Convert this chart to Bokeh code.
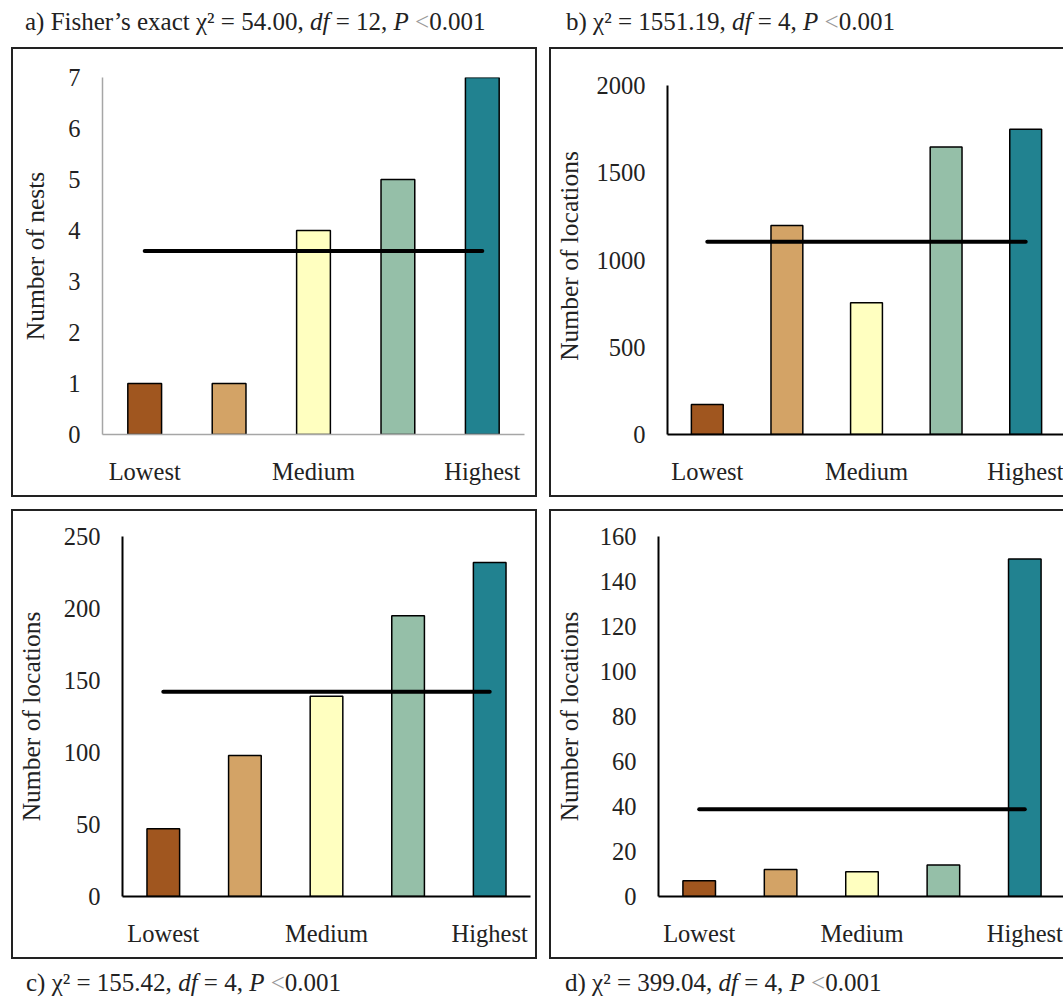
from bokeh.plotting import figure
from bokeh.layouts import row, column
from bokeh.models import Div, Spacer, Range1d, FixedTicker, ColumnDataSource
from bokeh.embed import file_html
from bokeh.resources import INLINE

# ---------------- data ----------------
levels = ["Lowest", "Low", "Medium", "High", "Highest"]
tick_labels = {1: "Lowest", 3: "Medium", 5: "Highest"}
bar_colors = ["#A0561F", "#D3A366", "#FFFFC0", "#95BFA8", "#218290"]

nests_a = [1, 1, 4, 5, 7]
locations_b = [172, 1198, 755, 1648, 1750]
locations_c = [47, 98, 139, 195, 232]
locations_d = [7, 12, 11, 14, 150]
expected = [3.6, 1104, 142.2, 38.8]

y_max = [7, 2000, 250, 160]
y_step = [1, 500, 50, 20]
y_titles = ["Number of nests", "Number of locations", "Number of locations", "Number of locations"]

LT = "<span style='color:#9a9a9a'>&lt;</span>"
title_a = "a) Fisher\u2019s exact \u03c7\u00b2 = 54.00, <i>df</i> = 12, <i>P</i> " + LT + "0.001"
title_b = "b) \u03c7\u00b2 = 1551.19, <i>df</i> = 4, <i>P</i> " + LT + "0.001"
title_c = "c) \u03c7\u00b2 = 155.42, <i>df</i> = 4, <i>P</i> " + LT + "0.001"
title_d = "d) \u03c7\u00b2 = 399.04, <i>df</i> = 4, <i>P</i> " + LT + "0.001"

FONT = "Liberation Serif"
TXT = "#222222"
BOX = "2px solid #222"
xs = [i + 1 for i in range(len(levels))]


def panel(vals, exp, ymax, yend, step, ylabel, w, h, bl, br, bt, bb, axis_color, axis_w,
          open_right, label_standoff=15):
    p = figure(width=w, height=h, x_range=Range1d(0.5, len(levels) + 0.5),
               y_range=Range1d(0, yend), output_backend="svg", toolbar_location=None,
               min_border_left=bl, min_border_right=br, min_border_top=bt, min_border_bottom=bb)
    p.outline_line_color = None
    p.grid.visible = False
    p.background_fill_color = "white"
    p.border_fill_color = "white"
    src = ColumnDataSource(dict(x=xs, top=vals, color=bar_colors, level=levels))
    p.vbar(x="x", top="top", bottom=0, width=0.4, fill_color="color",
           line_color="black", line_width=1.5, source=src)
    p.segment(x0=xs[0], x1=xs[-1], y0=exp, y1=exp, line_width=4, line_color="black",
              line_cap="round")
    for ax in (p.xaxis[0], p.yaxis[0]):
        ax.axis_line_color = axis_color
        ax.axis_line_width = axis_w
        ax.major_tick_line_color = None
        ax.minor_tick_line_color = None
        ax.major_tick_out = 0
        ax.major_tick_in = 0
        ax.minor_tick_out = 0
        ax.minor_tick_in = 0
        ax.major_label_text_font = FONT
        ax.major_label_text_font_size = "24.5px"
        ax.major_label_text_color = TXT
    p.xaxis.major_label_standoff = 23
    p.yaxis.major_label_standoff = 22
    p.xaxis.ticker = FixedTicker(ticks=list(tick_labels.keys()))
    p.xaxis.major_label_overrides = tick_labels
    p.yaxis.ticker = FixedTicker(ticks=list(range(0, ymax + 1, step)))
    p.yaxis.bounds = (0, ymax)
    p.yaxis.axis_label = ylabel
    p.yaxis.axis_label_text_font = FONT
    p.yaxis.axis_label_text_font_size = "25.5px"
    p.yaxis.axis_label_text_font_style = "normal"
    p.yaxis.axis_label_text_color = TXT
    p.yaxis.axis_label_standoff = label_standoff
    st = {"box-sizing": "border-box", "border-left": BOX, "border-top": BOX, "border-bottom": BOX}
    if not open_right:
        st["border-right"] = BOX
    p.styles = st
    return p


W_L, W_R, H = 526, 514, 450
# row 1 shares frame top/bottom; panel b's range reaches a little above 2000
pa = panel(nests_a, expected[0], y_max[0], 7, y_step[0], y_titles[0], W_L, H, 89, 15, 28, 65, "#a6a6a6", 1.5, False)
pb = panel(locations_b, expected[1], y_max[1], 2046, y_step[1], y_titles[1], W_R, H, 115, 0, 28, 65, "black", 2, True,
           label_standoff=10)
pc = panel(locations_c, expected[2], y_max[2], 250, y_step[2], y_titles[2], W_L, H, 106, 9, 25, 65, "black", 2, False)
pd = panel(locations_d, expected[3], y_max[3], 160, y_step[3], y_titles[3], W_R, H, 106, 0, 25, 65, "black", 2, True,
           label_standoff=13)


def title_div(txt, w, h, left, top, lh):
    inner = (f"<div style='position:relative; left:{left}px; top:{top}px; line-height:{lh}px; "
             f"white-space:nowrap; margin:0; padding:0'>{txt}</div>")
    return Div(text=inner, width=w, height=h,
               styles={"font-family": FONT, "font-size": "25px", "color": TXT,
                       "margin": "0", "padding": "0", "box-sizing": "border-box"})


top_row = row(title_div(title_a, 549, 47, 25, 4, 28), title_div(title_b, 514, 47, 17, 4, 28))
row1 = row(Spacer(width=11, height=H), pa, Spacer(width=12, height=H), pb)
row2 = row(Spacer(width=11, height=H), pc, Spacer(width=12, height=H), pd)
bottom_row = row(title_div(title_c, 549, 37, 26, 6, 20), title_div(title_d, 514, 37, 16, 6, 20))

layout = column(top_row, row1, Spacer(width=10, height=12), row2, bottom_row)

open("out.html", "w").write(file_html(layout, INLINE))
